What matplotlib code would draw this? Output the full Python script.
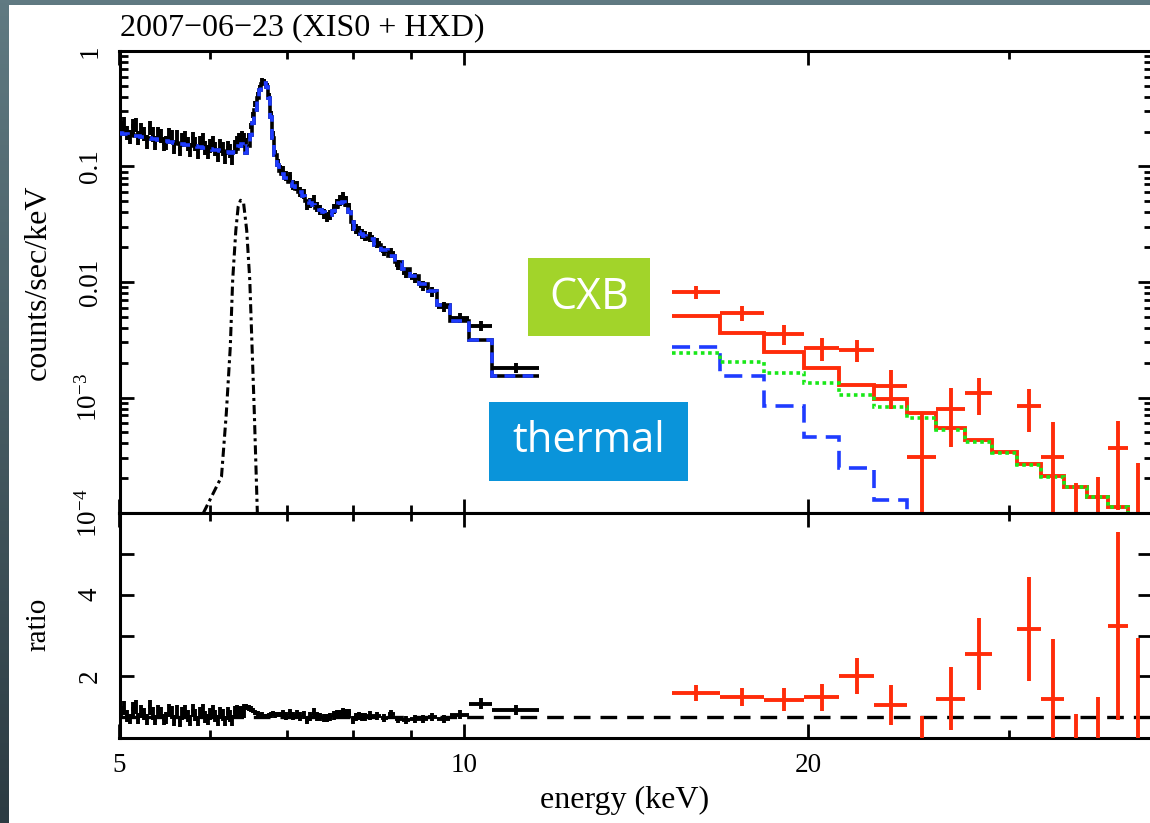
import numpy as np
import matplotlib
matplotlib.use("Agg")
import matplotlib.pyplot as plt
from matplotlib.patches import Rectangle
from matplotlib.colors import LinearSegmentedColormap
from matplotlib.ticker import FixedLocator, NullFormatter, FixedFormatter

plt.rcParams['font.family'] = ['Liberation Serif', 'DejaVu Serif']
plt.rcParams['mathtext.fontset'] = 'custom'
plt.rcParams['mathtext.rm'] = 'Liberation Serif'
plt.rcParams['mathtext.it'] = 'Liberation Serif:italic'

# ---------------- data ----------------
title = "2007\u221206\u221223 (XIS0 + HXD)"

# XIS0 spectrum: bin edges (keV)
xis_edges = [5.00, 5.03, 5.06, 5.09, 5.12, 5.15, 5.18, 5.21, 5.24, 5.27, 5.30, 5.33, 5.36, 5.39,
             5.42, 5.45, 5.48, 5.51, 5.54, 5.57, 5.60, 5.63, 5.66, 5.69, 5.72, 5.75, 5.78, 5.81,
             5.84, 5.87, 5.90, 5.93, 5.96, 5.99, 6.02, 6.05, 6.08, 6.11, 6.14, 6.17, 6.20, 6.23,
             6.26, 6.29, 6.32, 6.35, 6.38, 6.41, 6.44,
             6.47, 6.50, 6.53, 6.56, 6.59, 6.62, 6.65, 6.68, 6.71, 6.74, 6.77, 6.80, 6.83, 6.86,
             6.89, 6.92,
             6.97, 7.02, 7.07, 7.12, 7.17, 7.22, 7.27, 7.32, 7.37, 7.42, 7.47, 7.52, 7.57, 7.62,
             7.67, 7.72, 7.77, 7.82, 7.87, 7.92, 7.97, 8.02, 8.07, 8.12, 8.17, 8.22,
             8.34, 8.46, 8.58, 8.70, 8.84, 8.98, 9.14, 9.30, 9.48, 9.73, 10.11, 10.59, 11.64]

# XIS0 data (counts/sec/keV)
xis_rate = [0.218, 0.235, 0.197, 0.181, 0.224, 0.231, 0.178, 0.208, 0.193, 0.166,
            0.217, 0.191, 0.160, 0.194, 0.186, 0.159, 0.162, 0.190, 0.181, 0.148,
            0.180, 0.142, 0.170, 0.177, 0.159, 0.140, 0.175, 0.158, 0.135, 0.162,
            0.170, 0.145, 0.134, 0.153, 0.161, 0.143, 0.127, 0.151, 0.142, 0.122,
            0.146, 0.137, 0.121, 0.150, 0.162, 0.170, 0.178, 0.172,
            0.165, 0.185, 0.225, 0.280, 0.345, 0.420, 0.480, 0.555, 0.545, 0.500,
            0.410, 0.285, 0.190, 0.132, 0.110, 0.097,
            0.092, 0.083, 0.081, 0.070, 0.068, 0.061, 0.058, 0.047, 0.049, 0.051,
            0.045, 0.042, 0.039, 0.037, 0.038, 0.043, 0.048, 0.051, 0.055, 0.050,
            0.044, 0.031, 0.029, 0.028, 0.026, 0.025,
            0.0245, 0.0218, 0.0185, 0.0180, 0.0140, 0.0120, 0.0108, 0.0093, 0.0083,
            0.0061, 0.0049, 0.0042, 0.0018]

# relative 1-sigma errors per spectral segment and segment sizes
xis_seg_relerr = [0.14, 0.06, 0.10, 0.10]
xis_seg_nbins = [48, 16, 26, 13]

# XIS0 model (thermal + lines), per bin
xis_model = [0.195, 0.193, 0.191, 0.189, 0.187, 0.185, 0.183, 0.181, 0.179, 0.177,
             0.175, 0.174, 0.172, 0.170, 0.168, 0.167, 0.165, 0.164, 0.162, 0.161,
             0.159, 0.158, 0.156, 0.155, 0.153, 0.152, 0.151, 0.149, 0.148, 0.147,
             0.145, 0.144, 0.143, 0.142, 0.140, 0.139, 0.138, 0.137, 0.135, 0.134,
             0.133, 0.132, 0.131, 0.133, 0.141, 0.151, 0.158, 0.149,
             0.132, 0.150, 0.186, 0.240, 0.310, 0.390, 0.460, 0.520, 0.530, 0.490,
             0.390, 0.270, 0.175, 0.125, 0.103, 0.091,
             0.086, 0.080, 0.074, 0.068, 0.064, 0.060, 0.055, 0.050, 0.048, 0.046,
             0.044, 0.042, 0.040, 0.038, 0.038, 0.041, 0.045, 0.048, 0.049, 0.046,
             0.040, 0.033, 0.029, 0.027, 0.026, 0.025,
             0.0236, 0.0211, 0.0189, 0.0168, 0.0148, 0.0129, 0.0112, 0.0097, 0.0083,
             0.0063, 0.0046, 0.00315, 0.00153]

# 6.4 keV Gaussian component (dash-dot)
gauss_E = [5.92, 6.14, 6.20, 6.25, 6.28, 6.32, 6.35, 6.38, 6.42, 6.46, 6.50, 6.53, 6.56, 6.58, 6.60]
gauss_v = [1.0e-4, 2.06e-4, 7.3e-4, 2.75e-3, 1.04e-2, 2.8e-2, 4.5e-2, 5.1e-2, 4.8e-2, 2.8e-2,
           1.04e-2, 2.75e-3, 7.3e-4, 2.7e-4, 1.0e-4]

# HXD-PIN spectrum
hxd_edges = [15.2, 16.75, 18.3, 19.85, 21.3, 22.85, 24.4, 25.9, 27.45, 29.0, 30.5, 32.0,
             33.5, 35.1, 36.6, 38.1, 39.6]
hxd_rate = [8.19e-3, 5.39e-3, 3.55e-3, 2.68e-3, 2.58e-3, 1.26e-3, 3.05e-4, 7.9e-4, 1.09e-3,
            np.nan, 8.4e-4, 3.05e-4, 3.0e-5, 5.0e-5, 3.66e-4, 3.0e-5]
hxd_err = [1.0e-3, 0.8e-3, 0.69e-3, 0.6e-3, 0.57e-3, 0.47e-3, 4.45e-4, 4.2e-4, 3.8e-4,
           np.nan, 3.4e-4, 3.05e-4, 1.52e-4, 1.55e-4, 2.6e-4, 2.4e-4]
hxd_model = [5.1e-3, 3.62e-3, 2.48e-3, 1.80e-3, 1.28e-3, 9.7e-4, 7.34e-4, 5.45e-4, 4.28e-4,
             3.37e-4, 2.66e-4, 2.09e-4, 1.68e-4, 1.38e-4, 1.13e-4, 9.2e-5]
hxd_cxb = [2.43e-3, 2.03e-3, 1.63e-3, 1.34e-3, 1.05e-3, 8.28e-4, 6.65e-4, 5.24e-4, 4.12e-4,
           3.31e-4, 2.60e-4, 2.07e-4, 1.67e-4, 1.37e-4, 1.12e-4, 9.1e-5]
hxd_thermal = [2.74e-3, 1.53e-3, 8.44e-4, 4.55e-4, 2.45e-4, 1.30e-4, 6.9e-5, 3.7e-5, 2.0e-5,
               1.1e-5, 6e-6, 3e-6, 1.7e-6, 1e-6, 5e-7, 3e-7]

x_major = [5, 10, 20]
x_minor = [6, 7, 8, 9, 30]
y1_major = [1e-4, 1e-3, 1e-2, 0.1, 1]
y1_labels = [r'$10^{-4}$', r'$10^{-3}$', '0.01', '0.1', '1']
y2_major = [2, 4]
y2_minor = [1, 3, 5]

# ---------------- derived ----------------
xe = np.array(xis_edges)
xc = 0.5 * (xe[1:] + xe[:-1])
xhw = 0.5 * (xe[1:] - xe[:-1])
xr = np.array(xis_rate)
xm = np.array(xis_model)
xerr = xr * np.repeat(xis_seg_relerr, xis_seg_nbins)

he = np.array(hxd_edges)
hc = 0.5 * (he[1:] + he[:-1])
hhw = 0.5 * (he[1:] - he[:-1])
hr = np.array(hxd_rate)
herr = np.array(hxd_err)
hm = np.array(hxd_model)
ok = ~np.isnan(hr)

# ---------------- figure ----------------
W, H = 1150, 823
fig = plt.figure(figsize=(W / 100, H / 100), dpi=100)

bg = fig.add_axes([0, 0, 1, 1], zorder=-10)
bg.imshow(np.linspace(0, 1, 256)[:, None], aspect='auto', extent=[0, 1, 0, 1],
          cmap=LinearSegmentedColormap.from_list('bg', ['#607a82', '#2c3b42']))
bg.axis('off')
fig.add_artist(Rectangle((9 / W, 0), 1, 1 - 5 / H, transform=fig.transFigure,
                         facecolor='white', edgecolor='none', zorder=-5))

L = 119.5 / W
R = 1152 / W
ax1 = fig.add_axes([L, (H - 513) / H, R - L, (513 - 51) / H])
ax2 = fig.add_axes([L, (H - 737.7) / H, R - L, (737.7 - 513) / H])

RED = '#ff2c0a'
BLUE = '#1f3cff'
GREEN = '#18e818'

# top panel
lo = np.minimum(xerr, xr - 1e-7)
ax1.errorbar(xc, xr, xerr=xhw, yerr=[lo, xerr], fmt='none', ecolor='black',
             elinewidth=2.8, capsize=0, zorder=3)
ax1.stairs(xm, xe, baseline=None, color='black', lw=2.6, zorder=4)
ax1.stairs(xm, xe, baseline=None, color=BLUE, lw=2.6, ls=(0, (3, 2)), zorder=5)
ax1.plot(gauss_E, gauss_v, color='black', lw=2.2, ls=(0, (3, 1.3, 1, 1.3)), zorder=4)

ax1.stairs(hxd_thermal, he, baseline=None, color=BLUE, lw=2.6, ls=(0, (5, 2.5)), zorder=4)
ax1.stairs(hm, he, baseline=None, color=RED, lw=2.8, zorder=4)
ax1.stairs(hxd_cxb, he, baseline=None, color=GREEN, lw=2.6, ls=(0, (1, 1)), zorder=5)
hlo = np.minimum(herr, hr - 1e-7)
ax1.errorbar(hc[ok], hr[ok], xerr=hhw[ok], yerr=[hlo[ok], herr[ok]], fmt='none',
             ecolor=RED, elinewidth=2.8, capsize=0, zorder=6)

ax1.set_yscale('log')
ax1.set_ylim(1e-4, 1)
ax1.yaxis.set_major_locator(FixedLocator(y1_major))
ax1.yaxis.set_major_formatter(FixedFormatter(y1_labels))
ax1.yaxis.set_minor_locator(FixedLocator([m * 10.0 ** d for d in range(-4, 0) for m in range(2, 10)]))
ax1.yaxis.set_minor_formatter(NullFormatter())

# ratio panel
rx = xr / xm
rxe = xerr / xm
ax2.axhline(1.0, color='black', lw=2.4, ls=(0, (5, 3)), zorder=2)
ax2.errorbar(xc, rx, xerr=xhw, yerr=rxe, fmt='none', ecolor='black',
             elinewidth=2.8, capsize=0, zorder=3)
rh = hr / hm
rhe = herr / hm
ax2.errorbar(hc[ok], rh[ok], xerr=hhw[ok], yerr=rhe[ok], fmt='none', ecolor=RED,
             elinewidth=2.8, capsize=0, zorder=4)
ax2.set_ylim(0.5, 6)
ax2.yaxis.set_major_locator(FixedLocator(y2_major))
ax2.yaxis.set_major_formatter(FixedFormatter([str(v) for v in y2_major]))
ax2.yaxis.set_minor_locator(FixedLocator(y2_minor))
ax2.yaxis.set_minor_formatter(NullFormatter())

for ax in (ax1, ax2):
    ax.set_xscale('log')
    ax.set_xlim(5, 40)
    ax.xaxis.set_major_locator(FixedLocator(x_major))
    ax.xaxis.set_major_formatter(FixedFormatter([str(v) for v in x_major]))
    ax.xaxis.set_minor_locator(FixedLocator(x_minor))
    ax.xaxis.set_minor_formatter(NullFormatter())
    ax.tick_params(which='both', direction='in', top=True, right=True, width=2.0,
                   labelsize=19.5)
    ax.tick_params(which='major', length=10)
    ax.tick_params(which='minor', length=6)
    ax.tick_params(axis='y', labelrotation=90, pad=12)
    ax.tick_params(axis='x', pad=11)
    for lab in ax.get_yticklabels():
        lab.set_va('center')
    for s in ax.spines.values():
        s.set_linewidth(2.2)
ax2.tick_params(axis='y', which='minor', length=10)
ax1.tick_params(labelbottom=False)

# labels
fig.text(120 / W, 1 - 28 / H, title, ha='left', va='center', fontsize=23)
fig.text(38 / W, 1 - 282 / H, 'counts/sec/keV', rotation=90, ha='center', va='center', fontsize=23)
fig.text(38 / W, 1 - 624 / H, 'ratio', rotation=90, ha='center', va='center', fontsize=21)
fig.text(625 / W, 1 - 800 / H, 'energy (keV)', ha='center', va='center', fontsize=23)

# annotation boxes
fig.add_artist(Rectangle((528 / W, (H - 336) / H), 122 / W, 78 / H, transform=fig.transFigure,
                         facecolor='#a2d42a', edgecolor='none', zorder=20))
fig.text(589 / W, 1 - 298 / H, 'CXB', ha='center', va='center', color='white',
         fontsize=31, family='Open Sans', zorder=21)
fig.add_artist(Rectangle((489 / W, (H - 481) / H), 199 / W, 79 / H, transform=fig.transFigure,
                         facecolor='#0a94da', edgecolor='none', zorder=20))
fig.text(588.5 / W, 1 - 441 / H, 'thermal', ha='center', va='center', color='white',
         fontsize=30, family='Open Sans', zorder=21)

fig.savefig('out.png', dpi=100)
